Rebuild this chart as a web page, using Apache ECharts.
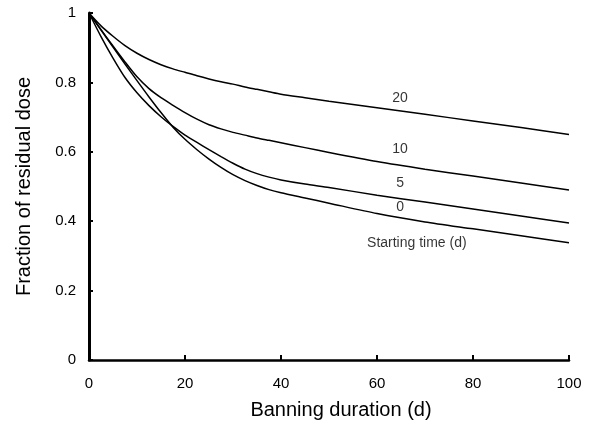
<!DOCTYPE html>
<html>
<head>
<meta charset="utf-8">
<script src="https://cdn.jsdelivr.net/npm/echarts@6/dist/echarts.min.js"></script>
<style>
  html,body{margin:0;padding:0;background:#fff}
  #chart{width:594px;height:430px}
</style>
</head>
<body>
<div id="chart"></div>
<script>
// banning duration (d)
const days = [0,2.5,5,7.5,10,12.5,15,17.5,20,22.5,25,27.5,30,32.5,35,37.5,40,45,50,60,70,80,90,100]
// fraction of residual dose, one list per starting time
const start20 = [1,0.963,0.933,0.906,0.884,0.866,0.851,0.839,0.829,0.819,0.81,0.802,0.795,0.787,0.78,0.773,0.766,0.756,0.746,0.727,0.708,0.689,0.67,0.65]
const start10 = [1,0.952,0.905,0.859,0.816,0.782,0.756,0.734,0.713,0.694,0.678,0.666,0.656,0.648,0.64,0.633,0.626,0.612,0.598,0.572,0.55,0.53,0.51,0.49]
const start5 = [1,0.932,0.87,0.814,0.77,0.733,0.701,0.673,0.648,0.627,0.606,0.586,0.567,0.55,0.537,0.527,0.519,0.507,0.497,0.475,0.455,0.435,0.415,0.395]
const start0 = [1,0.951,0.902,0.853,0.805,0.758,0.713,0.671,0.636,0.606,0.579,0.555,0.534,0.517,0.503,0.491,0.482,0.467,0.452,0.422,0.398,0.378,0.358,0.338]

// curve labels (text, x, y in data units)
const labelText = ['20','10','5','0','Starting time (d)']
const labelX = [64.8,64.8,64.8,64.8,68.3]
const labelY = [0.755,0.607,0.51,0.441,0.336]

const myChart = echarts.init(document.querySelector('#chart'))

function curve(name, vals){
  return {
    name: name,
    type: 'line',
    data: days.map((d,i)=>[d, vals[i]]),
    smooth: 0.25,
    showSymbol: false,
    lineStyle: {color:'#000', width:1.5}
  }
}

const option = {
  animation: false,
  grid: {left:89, right:25, top:13, bottom:70},
  xAxis: {
    type: 'value',
    min: 0, max: 100, interval: 20,
    name: 'Banning duration (d)',
    nameLocation: 'middle',
    nameGap: 40,
    nameTextStyle: {fontFamily:'Liberation Sans', fontSize:20, color:'#000', padding:[0,0,0,24]},
    axisLine: {show:true, lineStyle:{color:'#000', width:2.5}},
    axisTick: {show:true, inside:true, length:5, lineStyle:{color:'#000', width:2}},
    axisLabel: {margin:16, fontFamily:'Liberation Sans', fontSize:15, color:'#000'},
    splitLine: {show:false}
  },
  yAxis: {
    type: 'value',
    min: 0, max: 1, interval: 0.2,
    name: 'Fraction of residual dose',
    nameLocation: 'middle',
    nameGap: 55,
    nameTextStyle: {fontFamily:'Liberation Sans', fontSize:20, color:'#000'},
    axisLine: {show:true, lineStyle:{color:'#000', width:3}},
    axisTick: {show:true, inside:true, length:4, lineStyle:{color:'#000', width:2}},
    axisLabel: {margin:13, fontFamily:'Liberation Sans', fontSize:15, color:'#000',
      formatter: v => String(Math.round(v*10)/10)},
    splitLine: {show:false}
  },
  series: [
    curve('20', start20),
    curve('10', start10),
    curve('5', start5),
    curve('0', start0),
    {
      type: 'scatter',
      symbolSize: 1,
      itemStyle: {color:'transparent'},
      data: labelText.map((t,i)=>({name:t, value:[labelX[i], labelY[i]]})),
      label: {
        show: true,
        position: 'inside',
        formatter: p => p.name,
        fontFamily: 'Liberation Sans',
        fontSize: 14,
        color: '#000'
      }
    }
  ]
}

myChart.setOption(option)
</script>
</body>
</html>
